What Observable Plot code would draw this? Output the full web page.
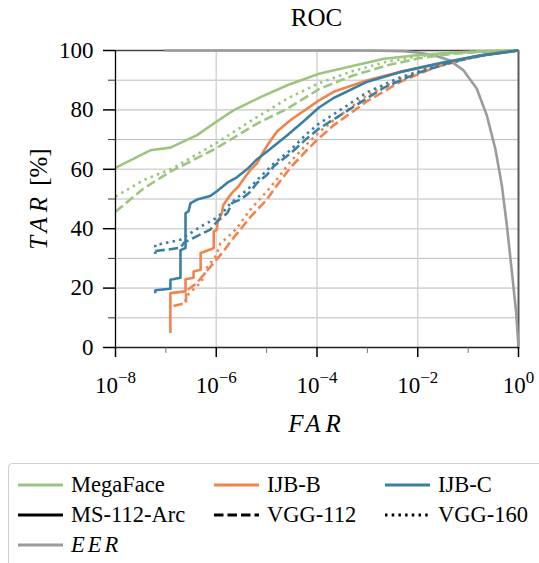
<!DOCTYPE html>
<html><head><meta charset="utf-8">
<script src="https://cdn.jsdelivr.net/npm/d3@7"></script>
<script src="https://cdn.jsdelivr.net/npm/@observablehq/plot@0.6"></script>
<style>
body{margin:0;background:#fff;}
#wrap{position:relative;width:539px;height:563px;overflow:hidden;background:#fff;}
#chart{position:absolute;left:0;top:0;}
#legend{position:absolute;left:8px;top:463px;width:560px;height:120px;border:1.5px solid #cfcfcf;border-radius:4px;box-sizing:border-box;}
.item{position:absolute;height:30px;display:flex;align-items:center;font-size:22.5px;color:#000;white-space:nowrap;}
.item svg{margin-right:8px;}
</style></head><body><div id="wrap"><div id="chart"></div><div id="legend"></div></div>
<script>
// ---- data (FAR as log10 exponent, TAR in %) ----
const megaArcLogFar = [-8, -7.31, -6.91, -6.38, -6.01, -5.65, -5.12, -4.59, -3.96, -3.34, -2.67, -2.02, -1.3, -0.6, 0];
const megaArcTar    = [60.5, 66.4, 67.3, 71.5, 75.9, 79.9, 84.3, 88.3, 92.2, 94.6, 97.2, 98.4, 99.3, 99.8, 100];
const megaVgg160LogFar = [-8, -7.44, -6.87, -6.01, -5.19, -4.59, -3.96, -3.3, -2.6, -2.0, -1.3, -0.6, 0];
const megaVgg160Tar    = [50.8, 56.4, 60.3, 68.7, 77.6, 83.8, 89.0, 93.0, 96.3, 98.0, 99.2, 99.8, 100];
const megaVgg112LogFar = [-8, -7.44, -6.91, -6.01, -5.19, -4.59, -3.96, -3.3, -2.6, -2.0, -1.3, -0.6, 0];
const megaVgg112Tar    = [45.7, 53.6, 59.2, 67.0, 75.4, 80.4, 87.0, 91.5, 95.0, 97.3, 98.9, 99.7, 100];

const ijbbArcLogFar = [-6.91, -6.91, -6.61, -6.61, -6.45, -6.45, -6.31, -6.31, -6.12, -6.05, -6.05, -5.99, -5.97, -5.89, -5.86, -5.79, -5.69, -5.56, -5.42, -5.32, -5.19, -5.06, -4.99, -4.79, -4.53, -3.96, -3.67, -3.0, -2.34, -1.55, -0.8, 0];
const ijbbArcTar    = [4.9, 18.3, 18.9, 23.0, 23.5, 25.6, 26.2, 31.8, 33.0, 33.5, 39.1, 39.6, 42.4, 45.2, 48.0, 49.7, 52.0, 54.2, 57.6, 59.8, 62.0, 66.0, 68.0, 72.8, 76.5, 83.2, 86.1, 90.0, 92.8, 95.6, 98.2, 100];
const ijbbVgg112LogFar = [-6.85, -6.6, -6.6, -6.4, -6.25, -6.1, -6.0, -5.85, -5.7, -5.58, -5.32, -5.0, -4.8, -4.53, -4.2, -3.96, -3.67, -3.0, -2.34, -1.68, -1.0, -0.5, 0];
const ijbbVgg112Tar    = [14.0, 15.0, 19.0, 21.5, 24.5, 27.5, 29.5, 32.5, 36.0, 38.5, 44.0, 49.7, 54.5, 60.5, 66.5, 70.5, 74.8, 83.0, 89.5, 94.2, 97.3, 99.0, 100];
const ijbbVgg160LogFar = [-6.62, -6.55, -6.3, -6.18, -6.0, -5.92, -5.75, -5.6, -5.32, -5.0, -4.8, -4.53, -4.2, -3.96, -3.67, -3.0, -2.34, -1.68, -1.0, -0.5, 0];
const ijbbVgg160Tar    = [15.5, 18.0, 22.0, 27.0, 31.0, 35.0, 37.5, 40.0, 46.5, 52.5, 56.5, 62.5, 68.5, 72.5, 76.5, 85.0, 90.5, 94.8, 97.5, 99.0, 100];

const ijbcArcLogFar = [-7.21, -7.21, -6.91, -6.91, -6.71, -6.71, -6.61, -6.61, -6.55, -6.51, -6.38, -6.12, -5.98, -5.78, -5.59, -5.39, -5.19, -4.99, -4.59, -4.26, -3.96, -3.67, -3.0, -2.34, -1.55, -0.8, 0];
const ijbcArcTar    = [18.3, 19.3, 19.8, 22.8, 23.5, 32.8, 33.5, 45.2, 45.9, 48.6, 49.8, 51.0, 52.7, 55.5, 57.3, 60.0, 63.4, 66.0, 71.5, 76.3, 80.8, 84.0, 89.5, 92.8, 95.8, 98.2, 100];
const ijbcVgg112LogFar = [-7.21, -6.91, -6.71, -6.64, -6.38, -6.12, -5.98, -5.78, -5.68, -5.52, -5.35, -5.19, -4.99, -4.86, -4.53, -4.2, -3.96, -3.67, -3.0, -2.67, -2.02, -1.35, -0.7, 0];
const ijbcVgg112Tar    = [32.5, 33.1, 33.6, 35.3, 37.5, 39.7, 42.5, 45.3, 48.7, 49.8, 52.0, 55.4, 58.2, 61.0, 65.3, 70.4, 73.7, 76.8, 84.0, 87.5, 92.3, 96.0, 98.5, 100];
const ijbcVgg160LogFar = [-7.21, -7.21, -7.11, -6.71, -6.51, -6.31, -6.01, -5.85, -5.72, -5.52, -5.39, -5.19, -4.99, -4.86, -4.53, -4.2, -3.96, -3.67, -3.0, -2.34, -1.68, -1.0, -0.5, 0];
const ijbcVgg160Tar    = [31.5, 34.6, 34.8, 36.3, 38.5, 40.7, 43.5, 45.8, 48.5, 51.3, 53.0, 56.4, 59.7, 61.9, 66.4, 72.0, 75.4, 78.5, 86.0, 91.0, 94.5, 97.3, 99.0, 100];

const eerLogFar = [-7, -3, -2.3, -2.0, -1.69, -1.36, -1.09, -0.83, -0.63, -0.46, -0.33, -0.23, -0.13, -0.046, 0];
const eerTar    = [100, 100, 99.8, 99.3, 98.5, 96.6, 93.3, 87.2, 78.2, 66.9, 54.5, 41.0, 25.2, 11.7, 0];

const xMajorTicks = [-8, -6, -4, -2, 0];
const xMinorTicks = [-7, -5, -3, -1];
const yMajorTicks = [0, 20, 40, 60, 80, 100];
const yMinorTicks = [10, 30, 50, 70, 90];

const colors = {"MegaFace": "#9cc67f", "IJB-B": "#f0844d", "IJB-C": "#3a80a3", "EER": "#9b9b9b"};
const dashes = {"MS-112-Arc": null, "VGG-112": "9.5,4", "VGG-160": "2.5,4.2"};

function rows(logFar, tar) { return logFar.map((e, i) => ({far: 10 ** e, tar: tar[i]})); }
const series = [
  ["MegaFace", "VGG-112", megaVgg112LogFar, megaVgg112Tar],
  ["MegaFace", "VGG-160", megaVgg160LogFar, megaVgg160Tar],
  ["MegaFace", "MS-112-Arc", megaArcLogFar, megaArcTar],
  ["IJB-B", "VGG-112", ijbbVgg112LogFar, ijbbVgg112Tar],
  ["IJB-B", "VGG-160", ijbbVgg160LogFar, ijbbVgg160Tar],
  ["IJB-B", "MS-112-Arc", ijbbArcLogFar, ijbbArcTar],
  ["IJB-C", "VGG-112", ijbcVgg112LogFar, ijbcVgg112Tar],
  ["IJB-C", "VGG-160", ijbcVgg160LogFar, ijbcVgg160Tar],
  ["IJB-C", "MS-112-Arc", ijbcArcLogFar, ijbcArcTar]
];

const W = 539, H = 460;
const FONT = "Liberation Serif";
const lineMarks = series.map(([ds, m, lf, t]) => Plot.line(rows(lf, t), {
  x: "far", y: "tar", stroke: colors[ds], strokeWidth: 2.6,
  strokeDasharray: dashes[m], strokeLinecap: "butt", strokeLinejoin: "round"
}));

const chart = Plot.plot({
  width: W, height: H,
  marginTop: 50, marginBottom: 113, marginLeft: 115, marginRight: 21,
  style: {fontFamily: FONT, fontSize: "23px", color: "#000", background: "#fff", overflow: "visible"},
  x: {type: "log", domain: [1e-8, 1], label: null},
  y: {domain: [0, 100], label: null},
  marks: [
    Plot.gridY(yMinorTicks, {stroke: "#b4b4b4", strokeOpacity: 1, strokeWidth: 0.9}),
    Plot.gridY(yMajorTicks.filter(d => d > 0 && d < 100), {stroke: "#d6d6d6", strokeOpacity: 1, strokeWidth: 1.6}),
    Plot.gridX(xMajorTicks.filter(e => e > -8 && e < 0).map(e => 10 ** e), {stroke: "#d6d6d6", strokeOpacity: 1, strokeWidth: 1.6}),
    Plot.ruleY([100], {stroke: "#444", strokeWidth: 1.5}),
    Plot.ruleX([1], {stroke: "#5a5a5a", strokeWidth: 2}),
    Plot.line(rows(eerLogFar, eerTar), {x: "far", y: "tar", stroke: colors.EER, strokeWidth: 2.6}),
    ...lineMarks,
    Plot.ruleX([1e-8], {stroke: "#000", strokeWidth: 1.3}),
    Plot.ruleY([0], {stroke: "#222", strokeWidth: 1.3}),
    Plot.axisY(yMajorTicks, {tickSize: 12, tickPadding: 10, strokeWidth: 1.5, stroke: "#000"}),
    Plot.axisY(yMinorTicks, {tickSize: 7, text: null, strokeWidth: 0.8, stroke: "#000"}),
    Plot.axisX(xMajorTicks.map(e => 10 ** e), {tickSize: 10, tickPadding: 19, strokeWidth: 1.5, stroke: "#000",
      tickFormat: d => String(Math.round(Math.log10(d)))}),
    Plot.axisX(xMinorTicks.map(e => 10 ** e), {tickSize: 6, text: null, strokeWidth: 0.8, stroke: "#555"})
  ]
});

const svg = d3.select(chart);
svg.selectAll('g[aria-label="x-axis tick label"] text').each(function() {
  const e = this.textContent.trim();
  const t = d3.select(this);
  if (e === "") { t.remove(); return; }
  t.text(null);
  t.append("tspan").text("10");
  t.append("tspan").attr("dy", "-10").attr("font-size", "17px").text(e.replace("-", "\u2212"));
});

svg.append("text").attr("x", 316.5).attr("y", 26).attr("text-anchor", "middle").style("font-family", FONT)
  .attr("font-size", 25).attr("fill", "#000").text("ROC");
svg.append("text").attr("x", 317).attr("y", 432).attr("text-anchor", "middle").style("font-family", FONT)
  .attr("font-size", 25).attr("font-style", "italic").attr("letter-spacing", 5).attr("fill", "#000").text("FAR");
const yl = svg.append("text").attr("transform", "translate(47,199) rotate(-90)").attr("text-anchor", "middle")
  .style("font-family", FONT).attr("font-size", 25).attr("fill", "#000");
yl.append("tspan").attr("font-style", "italic").attr("letter-spacing", 5).text("TAR");
yl.append("tspan").text(" [%]");

document.getElementById("chart").appendChild(chart);

// ---- legend ----
const legendItems = [
  {label: "MegaFace", color: colors["MegaFace"], dash: null, col: 0, row: 0},
  {label: "IJB-B", color: colors["IJB-B"], dash: null, col: 1, row: 0},
  {label: "IJB-C", color: colors["IJB-C"], dash: null, col: 2, row: 0},
  {label: "MS-112-Arc", color: "#000", dash: dashes["MS-112-Arc"], col: 0, row: 1},
  {label: "VGG-112", color: "#000", dash: dashes["VGG-112"], col: 1, row: 1},
  {label: "VGG-160", color: "#000", dash: dashes["VGG-160"], col: 2, row: 1},
  {label: "EER", color: colors.EER, dash: null, col: 0, row: 2, italic: true}
];
const colX = [9, 205, 376];
const rowY = [6, 36, 66];
const lg = d3.select("#legend");
legendItems.forEach(it => {
  const div = lg.append("div").attr("class", "item").style("left", colX[it.col] + "px").style("top", rowY[it.row] + "px")
    .style("font-family", FONT);
  const s = div.append("svg").attr("width", 45).attr("height", 10);
  s.append("line").attr("x1", 0).attr("x2", 45).attr("y1", 5).attr("y2", 5)
    .attr("stroke", it.color).attr("stroke-width", 2.8).attr("stroke-dasharray", it.dash);
  div.append("span").style("font-style", it.italic ? "italic" : "normal").style("letter-spacing", it.italic ? "3px" : "0").text(it.label);
});
</script></body></html>
